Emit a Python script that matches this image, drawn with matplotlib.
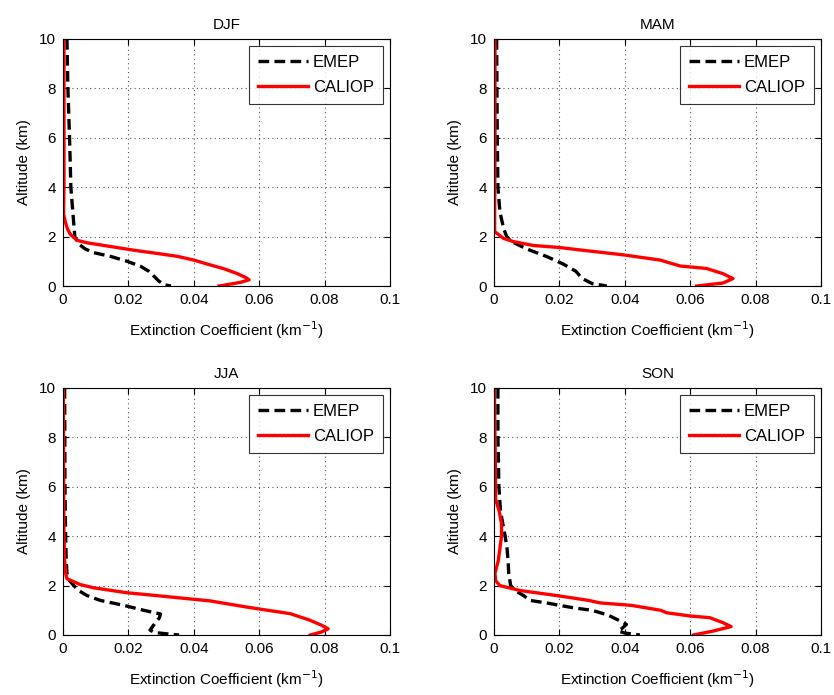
import matplotlib
matplotlib.use("Agg")
import matplotlib.pyplot as plt

plt.rcParams['font.family'] = ['Liberation Sans', 'DejaVu Sans']

seasons = ["DJF", "MAM", "JJA", "SON"]

# ---- DJF ----
djf_emep_alt = [10, 8, 6, 4, 3, 2.2, 2.0, 1.7, 1.5, 1.35, 1.2, 1.0, 0.8, 0.6, 0.4, 0.2, 0.05, 0.0]
djf_emep_val = [0.0012, 0.0015, 0.002, 0.0024, 0.003, 0.0035, 0.0036, 0.0048, 0.0068, 0.0094, 0.0145,
                0.0196, 0.0237, 0.0262, 0.0278, 0.0293, 0.031, 0.033]
djf_cal_alt = [10, 6, 4, 3.2, 2.9, 2.6, 2.3, 2.1, 2.0, 1.85, 1.75, 1.6, 1.45, 1.3, 1.2, 1.05, 0.85, 0.7,
               0.5, 0.35, 0.25, 0.15, 0.05, 0.0]
djf_cal_val = [0.0003, 0.0003, 0.0003, 0.0002, 0.0002, 0.0007, 0.0014, 0.0022, 0.003, 0.0043, 0.0073,
               0.0145, 0.0216, 0.0298, 0.035, 0.040, 0.0451, 0.0492, 0.0533, 0.0558, 0.0569, 0.0543,
               0.050, 0.0477]

# ---- MAM ----
mam_emep_alt = [10, 8, 6, 4, 3, 2.3, 2.0, 1.8, 1.5, 1.2, 0.9, 0.6, 0.3, 0.1, 0.0]
mam_emep_val = [0.0008, 0.0009, 0.001, 0.0012, 0.0018, 0.003, 0.0039, 0.0054, 0.010, 0.016, 0.021,
                0.025, 0.027, 0.030, 0.0345]
mam_cal_alt = [10, 6, 3, 2.2, 1.93, 1.8, 1.64, 1.56, 1.46, 1.26, 1.05, 0.81, 0.71, 0.5, 0.3, 0.12, 0.0]
mam_cal_val = [0.0003, 0.0003, 0.0002, 0.0002, 0.0029, 0.0059, 0.012, 0.020, 0.0263, 0.0396, 0.0508,
               0.0569, 0.065, 0.070, 0.0731, 0.070, 0.062]

# ---- JJA ----
jja_emep_alt = [10, 6, 4, 3, 2.5, 2.2, 2.0, 1.8, 1.6, 1.4, 1.2, 1.0, 0.85, 0.7, 0.45, 0.2, 0.1, 0.03, 0.0]
jja_emep_val = [0.0005, 0.0006, 0.0008, 0.001, 0.0012, 0.002, 0.0033, 0.0048, 0.0073, 0.0114, 0.0186,
                0.0247, 0.0298, 0.0295, 0.028, 0.0266, 0.028, 0.033, 0.0355]
jja_cal_alt = [10, 6, 4, 3, 2.5, 2.28, 2.04, 1.91, 1.71, 1.58, 1.38, 1.12, 0.86, 0.6, 0.4, 0.25, 0.12,
               0.05, 0.0]
jja_cal_val = [0.0001, 0.0002, 0.0003, 0.0005, 0.0008, 0.0012, 0.0053, 0.0094, 0.0196, 0.0298, 0.045,
               0.0567, 0.0696, 0.0755, 0.079, 0.0811, 0.079, 0.077, 0.0756]

# ---- SON ----
son_emep_alt = [10, 8, 6, 5, 4.5, 4, 3.5, 3.0, 2.5, 2.0, 1.8, 1.6, 1.4, 1.3, 1.1, 1.0, 0.8, 0.57,
                0.43, 0.25, 0.16, 0.08, 0.0]
son_emep_val = [0.0012, 0.0012, 0.0015, 0.002, 0.0027, 0.0034, 0.004, 0.0043, 0.0045, 0.0051, 0.0064,
                0.009, 0.011, 0.016, 0.0243, 0.030, 0.035, 0.0385, 0.0405, 0.039, 0.038, 0.040, 0.0446]
son_cal_alt = [10, 7, 5.5, 5, 4.5, 4, 3.5, 3, 2.5, 2.2, 2.0, 1.8, 1.6, 1.4, 1.3, 1.2, 1.0, 0.9, 0.77,
               0.7, 0.5, 0.34, 0.16, 0.0]
son_cal_val = [0.0001, 0.0004, 0.0005, 0.0016, 0.0023, 0.0023, 0.0018, 0.0013, 0.0003, 0.0005, 0.0018,
               0.008, 0.019, 0.029, 0.0324, 0.042, 0.051, 0.0528, 0.060, 0.066, 0.070, 0.0725, 0.067,
               0.061]

x_ticks = [0, 0.02, 0.04, 0.06, 0.08, 0.1]
x_tick_labels = ["0", "0.02", "0.04", "0.06", "0.08", "0.1"]
y_ticks = [0, 2, 4, 6, 8, 10]

data = {
    "DJF": (djf_emep_alt, djf_emep_val, djf_cal_alt, djf_cal_val),
    "MAM": (mam_emep_alt, mam_emep_val, mam_cal_alt, mam_cal_val),
    "JJA": (jja_emep_alt, jja_emep_val, jja_cal_alt, jja_cal_val),
    "SON": (son_emep_alt, son_emep_val, son_cal_alt, son_cal_val),
}

fig = plt.figure(figsize=(8.34, 6.95), dpi=100)
W, H = 834, 695
positions = {
    "DJF": (63, 39),
    "MAM": (494, 39),
    "JJA": (63, 388),
    "SON": (494, 388),
}
aw, ah = 327, 247

for s in seasons:
    x0, y0 = positions[s]
    ax = fig.add_axes([x0 / W, 1 - (y0 + ah) / H, aw / W, ah / H])
    ea, ev, ca, cv = data[s]
    ax.plot(ev, ea, color='black', linestyle=(0, (3.2, 1.6)), linewidth=2.4, label='EMEP')
    ax.plot(cv, ca, color='#ff0000', linestyle='-', linewidth=2.4, label='CALIOP')
    ax.set_xlim(0, 0.1)
    ax.set_ylim(0, 10)
    ax.set_xticks(x_ticks)
    ax.set_xticklabels(x_tick_labels)
    ax.set_yticks(y_ticks)
    ax.grid(True, linestyle=(0, (1, 3)), color='#555555', linewidth=0.8)
    ax.tick_params(direction='in', length=4, top=True, right=True, labelsize=11, pad=5)
    for sp in ax.spines.values():
        sp.set_color('black')
        sp.set_linewidth(0.8)
    ax.set_title(s, fontsize=11, pad=7)
    ax.set_xlabel('Extinction Coefficient (km$^{-1}$)', fontsize=11, labelpad=9)
    ax.set_ylabel('Altitude (km)', fontsize=11, labelpad=6)
    leg = ax.legend(loc='upper right', fontsize=12, handlelength=3.0, frameon=True, fancybox=False,
                    borderaxespad=0.42, handletextpad=0.3, borderpad=0.55, labelspacing=0.6)
    leg.get_frame().set_edgecolor('black')
    leg.get_frame().set_linewidth(0.8)

fig.savefig('out.png', dpi=100)
